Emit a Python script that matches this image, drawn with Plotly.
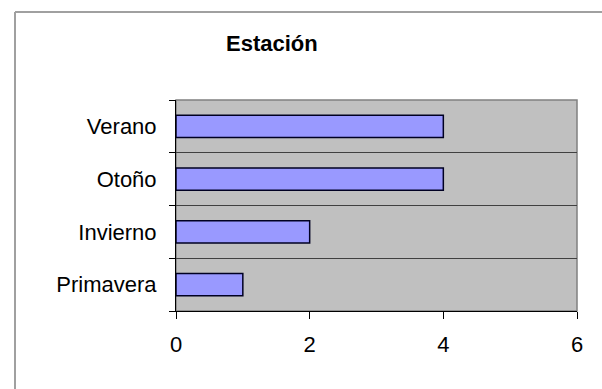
import plotly.graph_objects as go

categories = ["Primavera", "Invierno", "Otoño", "Verano"]
values = [1, 2, 4, 4]
x_ticks = [0, 2, 4, 6]
title_text = "Estación"

W, H = 602, 389
L, R, T, B = 176, 25, 100, 78
pw, ph = W - L - R, H - T - B

def px_x(x):
    return (x - L) / pw

def px_y(y):
    return (H - B - y) / ph

FONT = "Liberation Sans, Arial, sans-serif"

fig = go.Figure(
    go.Bar(
        x=values,
        y=categories,
        orientation="h",
        width=0.42,
        marker=dict(color="#9999FF", line=dict(color="#000022", width=1.5)),
    )
)

border = dict(color="#A0A0A0", width=2)

fig.update_layout(
    width=W,
    height=H,
    margin=dict(l=L, r=R, t=T, b=B),
    paper_bgcolor="white",
    plot_bgcolor="#C0C0C0",
    showlegend=False,
    font=dict(family=FONT, size=22, color="#000000"),
    shapes=[
        # outer chart border (left and top edges; the rest lies outside the view)
        dict(type="line", xref="paper", yref="paper",
             x0=px_x(15), x1=px_x(15), y0=px_y(400), y1=px_y(12),
             line=border, layer="below"),
        dict(type="line", xref="paper", yref="paper",
             x0=px_x(15), x1=px_x(620), y0=px_y(12), y1=px_y(12),
             line=border, layer="below"),
        # plot area border (top/right)
        dict(type="rect", xref="paper", yref="paper",
             x0=0, x1=1, y0=0, y1=1,
             line=dict(color="#808080", width=1.5), layer="below"),
    ],
    annotations=[
        dict(text="<b>" + title_text + "</b>", xref="paper", yref="paper",
             x=px_x(272), y=px_y(44), showarrow=False,
             font=dict(family=FONT, size=22, color="#000000"),
             xanchor="center", yanchor="middle"),
    ],
)

fig.update_xaxes(
    range=[0, 6],
    tickvals=x_ticks,
    ticktext=[str(v) for v in x_ticks],
    ticks="outside",
    ticklen=7,
    tickcolor="#000000",
    tickwidth=1,
    showgrid=False,
    zeroline=False,
    showline=True,
    linecolor="#000000",
    linewidth=1,
    ticklabelstandoff=7,
)

fig.update_yaxes(
    type="category",
    categoryorder="array",
    categoryarray=categories,
    tickson="boundaries",
    ticks="outside",
    ticklen=6,
    tickcolor="#000000",
    showgrid=True,
    gridcolor="#404040",
    gridwidth=1,
    showline=True,
    linecolor="#000000",
    linewidth=1,
    ticklabelstandoff=14,
)

fig.write_html("out.html")
